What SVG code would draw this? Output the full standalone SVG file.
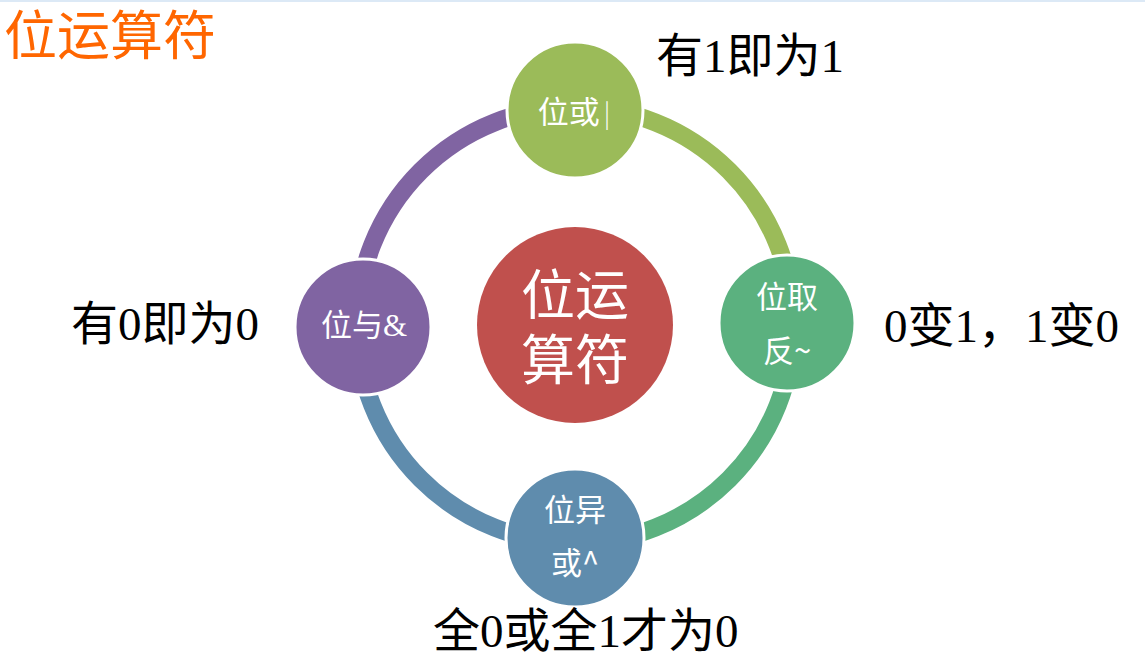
<svg xmlns="http://www.w3.org/2000/svg" width="1145" height="657" viewBox="0 0 1145 657">
  <style>
    .ring { fill: none; stroke-width: 18; }
    .node { stroke: #ffffff; stroke-width: 3; }
    .lbl { fill: #ffffff; font-family: "Noto Sans CJK SC", "Noto Sans", sans-serif; font-size: 31px; text-anchor: middle; }
    .big { fill: #ffffff; font-family: "Liberation Serif", "Noto Sans CJK SC", serif; font-size: 54px; text-anchor: middle; }
    .note { fill: #000000; font-family: "Liberation Serif", "Noto Sans CJK SC", serif; font-size: 47px; }
  </style>
  <rect x="0" y="0" width="1145" height="657" fill="#ffffff"/>
  <rect x="0" y="0" width="1145" height="2" fill="#dce9f6"/>
  <text x="4" y="55" font-family="Noto Sans CJK SC, sans-serif" font-size="53" fill="#ff6600">位运算符</text>

  <g id="connectors">
    <path class="ring" stroke="#8064a2" d="M 357 325 A 218 218 0 0 1 575 107"/>
    <path class="ring" stroke="#9bbb59" d="M 575 107 A 218 218 0 0 1 793 325"/>
    <path class="ring" stroke="#5bb17f" d="M 793 325 A 218 218 0 0 1 575 543"/>
    <path class="ring" stroke="#5f8cad" d="M 575 543 A 218 218 0 0 1 357 325"/>
  </g>

  <g id="center">
    <circle cx="575" cy="325" r="98" fill="#c0504d"/>
    <text class="big" x="575" y="315">位运</text>
    <text class="big" x="575" y="380">算符</text>
  </g>

  <g id="node-or">
    <circle class="node" cx="575" cy="110" r="68" fill="#9bbb59"/>
    <text class="lbl" x="574" y="123">位或<tspan font-size="26" font-weight="300" dx="4">|</tspan></text>
  </g>

  <g id="node-not">
    <circle class="node" cx="787" cy="323" r="68" fill="#5bb17f"/>
    <text class="lbl" x="787" y="308">位取</text>
    <text class="lbl" x="787" y="362">反~</text>
  </g>

  <g id="node-xor">
    <circle class="node" cx="575" cy="538" r="69" fill="#5f8cad"/>
    <text class="lbl" x="575" y="521">位异</text>
    <text class="lbl" x="575" y="574">或^</text>
  </g>

  <g id="node-and">
    <circle class="node" cx="363" cy="327" r="68" fill="#8064a2"/>
    <text class="lbl" x="364" y="336">位与<tspan font-family="Liberation Serif, serif">&amp;</tspan></text>
  </g>

  <g id="notes">
    <text class="note" x="656" y="72">有1即为1</text>
    <text class="note" x="71" y="340">有0即为0</text>
    <text class="note" x="884" y="342">0变1，1变0</text>
    <text class="note" x="433" y="647">全0或全1才为0</text>
  </g>
</svg>
